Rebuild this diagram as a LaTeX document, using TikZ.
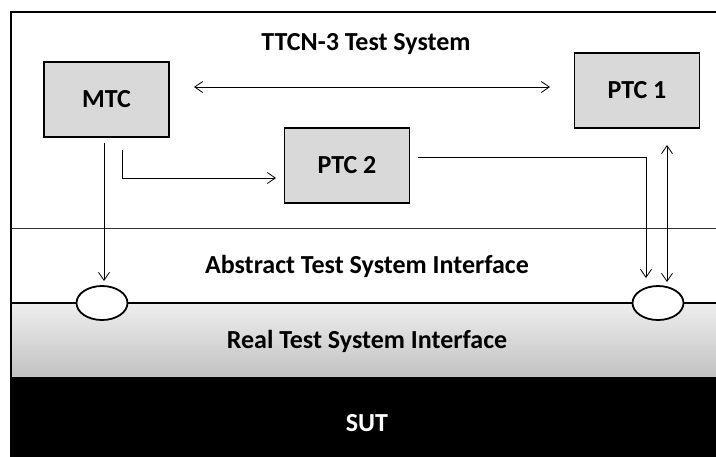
\documentclass[tikz,border=0pt]{standalone}
\usepackage{fontspec}
\setmainfont{Carlito}
\usetikzlibrary{arrows.meta,shapes.geometric}
\begin{document}
\begin{tikzpicture}[x=1pt,y=-1pt,
  lbl/.style={font=\fontsize{26}{30}\selectfont\bfseries},
  compbox/.style={draw=black,line width=1.8pt,fill=boxgray,minimum width=125pt,minimum height=75pt,inner sep=0pt,lbl},
  port/.style={draw=black,line width=1.8pt,fill=white,ellipse,minimum width=51pt,minimum height=34pt,inner sep=0pt},
  conn/.style={line width=0.8pt,-{Straight Barb[length=8pt,width=11pt,line width=0.8pt]}},
  biconn/.style={line width=0.8pt,{Straight Barb[length=8pt,width=11pt,line width=0.8pt]}-{Straight Barb[length=8pt,width=11pt,line width=0.8pt]}}
]
\definecolor{boxgray}{HTML}{D9D9D9}
\definecolor{bandtop}{HTML}{EEEEEE}
\definecolor{bandbot}{HTML}{C2C2C2}
\useasboundingbox (0,0) rectangle (716,456);
\clip (0,0) rectangle (716,456);
% layers
\fill[top color=bandtop,bottom color=bandbot] (11,303) rectangle (720,377);
\fill[black] (10,377) rectangle (720,460);
\draw[line width=1.8pt] (11,460) -- (11,12) -- (720,12);
\draw[line width=0.7pt,black!80] (11,228) -- (720,228);
\draw[line width=1.5pt] (11,303) -- (720,303);
% texts
\node[lbl] (title) at (366,44) {TTCN-3 Test System};
\node[lbl] (ati) at (367,266) {Abstract Test System Interface};
\node[lbl] (rti) at (367,341) {Real Test System Interface};
\node[lbl,text=white] (sut) at (367,423) {SUT};
% components
\node[compbox] (mtc) at (106.5,99.5) {MTC};
\node[compbox] (ptc1) at (637,90.5) {PTC 1};
\node[compbox] (ptc2) at (347,165.5) {PTC 2};
% ports
\node[port] (p1) at (102,303) {};
\node[port] (p2) at (658,303) {};
% connector endpoints
\coordinate (a1) at (194,87);
\coordinate (a2) at (550,87);
\coordinate (m1) at (104,143);
\coordinate (m1e) at (104,281);
\coordinate (m2) at (122,150);
\coordinate (m2e) at (276,178);
\coordinate (q1) at (418,157);
\coordinate (q1e) at (646,278);
\coordinate (r1) at (667,145);
\coordinate (r1e) at (667,282);
% connectors
\draw[biconn] (a1) -- (a2);
\draw[conn] (m1) -- (m1e);
\draw[conn] (m2) |- (m2e);
\draw[conn] (q1) -| (q1e);
\draw[biconn] (r1) -- (r1e);
\end{tikzpicture}
\end{document}
